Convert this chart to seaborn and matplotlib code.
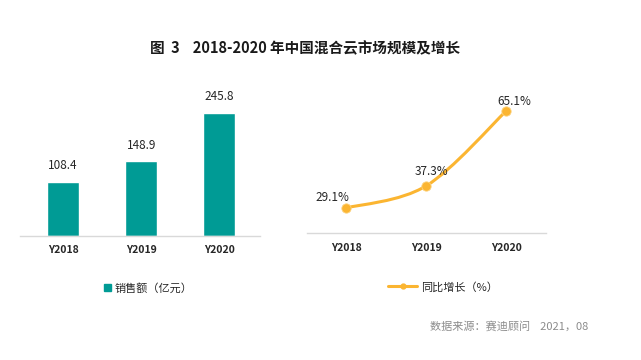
import numpy as np
import pandas as pd
import matplotlib
matplotlib.use("Agg")
import matplotlib.pyplot as plt
import seaborn as sns
from matplotlib.path import Path
from matplotlib.patches import PathPatch, Patch
from matplotlib.lines import Line2D

# data
years = ["Y2018", "Y2019", "Y2020"]
sales = [108.4, 148.9, 245.8]          # 销售额（亿元）
growth = [29.1, 37.3, 65.1]            # 同比增长（%）

title = "图  3    2018-2020 年中国混合云市场规模及增长"
source = "数据来源：赛迪顾问    2021，08"

TEAL = "#009b95"
ORANGE = "#fbb531"
GRID = "#d9d9d9"
TXT = "#262626"

sns.set_theme(style="white")
plt.rcParams["font.family"] = ["Noto Sans CJK SC", "DejaVu Sans"]

fig = plt.figure(figsize=(6.41, 3.6), dpi=100)

# ---- left: bar chart of sales
ax1 = fig.add_axes([20 / 641, 124.5 / 360, 240 / 641, 280 * 0.498 / 360])
df_bar = pd.DataFrame({"year": years, "sales": sales})
sns.barplot(data=df_bar, x="year", y="sales", color=TEAL, width=0.41,
            saturation=1, ax=ax1)
ax1.set_xlim(-0.55, 2.52)
ax1.set_ylim(0, 280)
for i, v in enumerate(sales):
    ax1.annotate(f"{v:.1f}", (i, v), xytext=(0, 7), textcoords="offset points",
                 ha="center", va="bottom", fontsize=8.5, color=TXT)

# ---- right: smoothed growth line
ax2 = fig.add_axes([307 / 641, 127 / 360, 239 / 641, 55.2 * 2.69 / 360])
ax2.set_xlim(-0.49, 2.5)
ax2.set_ylim(19.8, 75)

pts = np.column_stack([np.arange(len(growth)), growth]).astype(float)
ext = np.vstack([pts[0], pts, pts[-1]])
verts = [tuple(pts[0])]
codes = [Path.MOVETO]
for k in range(1, len(ext) - 2):
    p0, p1, p2, p3 = ext[k - 1], ext[k], ext[k + 1], ext[k + 2]
    c1 = p1 + (p2 - p0) / 6
    c2 = p2 - (p3 - p1) / 6
    verts += [tuple(c1), tuple(c2), tuple(p2)]
    codes += [Path.CURVE4] * 3
ax2.add_patch(PathPatch(Path(verts, codes), fill=False, edgecolor=ORANGE,
                        lw=2.2, capstyle="round", zorder=2))
df_line = pd.DataFrame({"x": np.arange(len(growth)), "growth": growth})
sns.scatterplot(data=df_line, x="x", y="growth", color=ORANGE, s=45,
                edgecolor="#fdd27c", linewidth=0.6, zorder=3, ax=ax2, legend=False)
offsets = [(-10, 3), (4, 6), (6, 2)]
for i, v in enumerate(growth):
    ax2.annotate(f"{v:.1f}%", (i, v), xytext=offsets[i], textcoords="offset points",
                 ha="center", va="bottom", fontsize=8.5, color=TXT)

for ax in (ax1, ax2):
    ax.set_xticks(range(len(years)))
    ax.set_xticklabels(years, fontsize=7.5, color=TXT, fontweight="bold")
    ax.set_xlabel("")
    ax.set_ylabel("")
    ax.set_yticks([])
    ax.tick_params(axis="x", length=0, pad=7)
    for s in ["top", "right", "left"]:
        ax.spines[s].set_visible(False)
    ax.spines["bottom"].set_color(GRID)
    ax.spines["bottom"].set_linewidth(1)
    ax.set_facecolor("none")

# legends
fig.legend(handles=[Patch(color=TEAL, label="销售额（亿元）")], loc="center",
           bbox_to_anchor=(148 / 641, 1 - 288 / 360), frameon=False, fontsize=8,
           handlelength=0.7, handleheight=0.7, handletextpad=0.3)
fig.legend(handles=[Line2D([], [], color=ORANGE, lw=2.2, marker="o", markersize=3.5,
                           label="同比增长（%）")], loc="center",
           bbox_to_anchor=(443 / 641, 1 - 287 / 360), frameon=False, fontsize=8,
           handlelength=2.6, handletextpad=0.3)

fig.text(305 / 641, 1 - 48 / 360, title, ha="center", va="center",
         fontsize=10.5, fontweight="bold", color="#1a1a1a")
fig.text(509 / 641, 1 - 326 / 360, source, ha="center", va="center",
         fontsize=8, color="#8c8c8c")

fig.savefig("out.png", dpi=100, facecolor="white")
